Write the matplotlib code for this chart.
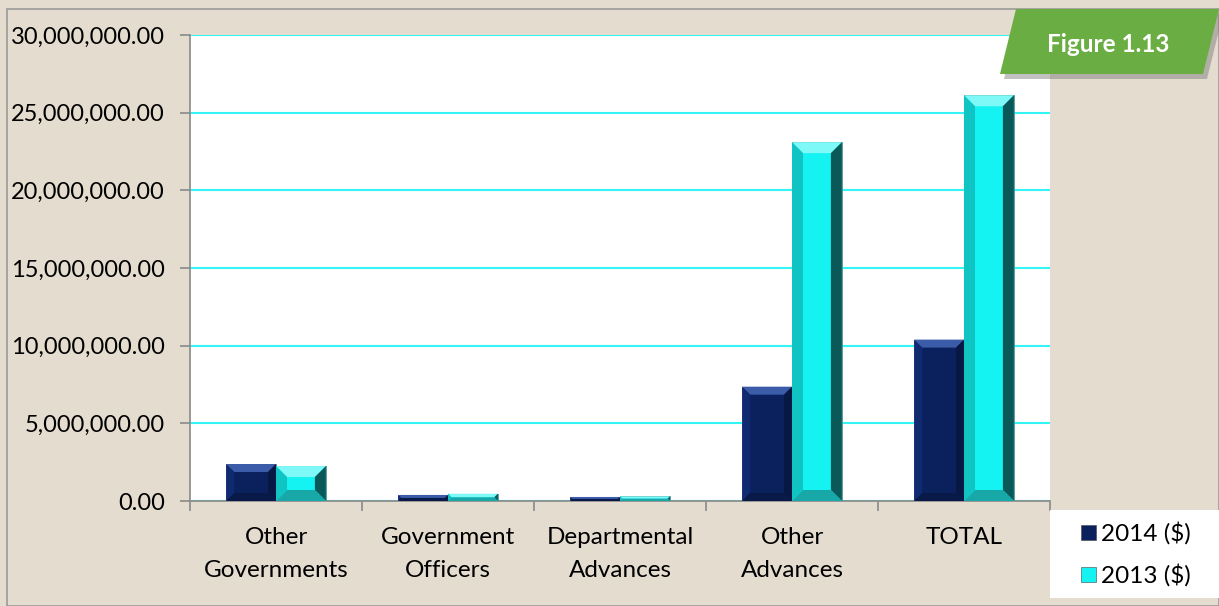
import matplotlib
matplotlib.use("Agg")
import matplotlib.pyplot as plt
from matplotlib.patches import Polygon, Rectangle
from matplotlib.ticker import FuncFormatter, FixedLocator
import numpy as np

categories = ["Other\nGovernments", "Government\nOfficers", "Departmental\nAdvances", "Other\nAdvances", "TOTAL"]
values_2014 = [2380000, 390000, 260000, 7360000, 10390000]
values_2013 = [2250000, 470000, 300000, 23100000, 26120000]
series_labels = ["2014 ($)", "2013 ($)"]
yticks = [0, 5000000, 10000000, 15000000, 20000000, 25000000, 30000000]
badge_text = "Figure 1.13"

plt.rcParams['font.family'] = ['Lato', 'DejaVu Sans']

W, H = 1219, 606
fig = plt.figure(figsize=(W/100, H/100), dpi=100)
fig.patch.set_facecolor('#e4dccf')

# outer frame
fig.add_artist(Rectangle((7/W, 0), 1 - 7/W, 1 - 9/H, transform=fig.transFigure,
                         fill=False, edgecolor='#9a9a9a', lw=1.2))

ax = fig.add_axes([190/W, 1 - 501/H, (1050-190)/W, (501-35)/H])
ax.set_facecolor('white')

x = np.arange(len(categories))
bw = 0.29
navy = '#0b215e'
cyan = '#14f2f2'
b1 = ax.bar(x - bw/2, values_2014, bw, color=navy, edgecolor='#6d7890', lw=0.6, zorder=3)
b2 = ax.bar(x + bw/2, values_2013, bw, color=cyan, edgecolor='#5a8a8a', lw=0.6, zorder=3)

FS = 17.5
ax.set_xlim(-0.5, len(categories) - 0.5)
ax.set_ylim(0, 30000000)
ax.yaxis.set_major_locator(FixedLocator(yticks))
ax.yaxis.set_major_formatter(FuncFormatter(lambda v, p: f"{v:,.2f}"))
ax.grid(axis='y', color='#33f5f5', lw=1.5, zorder=0)
ax.set_axisbelow(True)
ax.set_xticks(x)
ax.set_xticklabels(categories, fontsize=FS, linespacing=1.7)
ax.tick_params(axis='x', length=0, pad=19)
ax.set_xticks(np.arange(len(categories) + 1) - 0.5, minor=True)
ax.tick_params(axis='x', which='minor', length=7, color='#8a8a8a', width=1.2)
ax.tick_params(axis='y', length=7, color='#8a8a8a', width=1.2, labelsize=17, pad=11)
for s in ['top', 'right']:
    ax.spines[s].set_visible(False)
for s in ['left', 'bottom']:
    ax.spines[s].set_color('#8a8a8a')
    ax.spines[s].set_linewidth(1.2)

fig.canvas.draw()

def bevel(rect, top, left, right, bottom, bsz=8):
    bb = rect.get_window_extent()
    x0, y0, x1, y1 = bb.x0, bb.y0, bb.x1, bb.y1
    b = min(bsz, (x1 - x0) / 2, (y1 - y0) / 2)
    if b < 1:
        return
    polys = [
        ([(x0, y1), (x1, y1), (x1 - b, y1 - b), (x0 + b, y1 - b)], top),
        ([(x0, y1), (x0 + b, y1 - b), (x0 + b, y0 + b), (x0, y0)], left),
        ([(x1, y1), (x1, y0), (x1 - b, y0 + b), (x1 - b, y1 - b)], right),
        ([(x0, y0), (x0 + b, y0 + b), (x1 - b, y0 + b), (x1, y0)], bottom),
    ]
    for pts, c in polys:
        fig.add_artist(Polygon(pts, closed=True, transform=None, facecolor=c,
                               edgecolor='none', zorder=4))

for r in b1:
    bevel(r, '#3b5ca8', '#0f2a70', '#081845', '#0a1a48')
for r in b2:
    bevel(r, '#7ff8f8', '#10c4c4', '#0b5858', '#18a8a8', bsz=11)

# legend box
fig.add_artist(Rectangle((1050/W, 1 - 598/H), 169/W, 88/H, transform=fig.transFigure,
                         facecolor='white', edgecolor='none', zorder=5))
for i, (lab, c) in enumerate(zip(series_labels, [navy, cyan])):
    yc = 1 - (533 + i * 42) / H
    fig.add_artist(Rectangle((1081/W, yc - 7/H), 15/W, 15/H, transform=fig.transFigure,
                             facecolor=c, edgecolor='#444444', lw=0.4, zorder=6))
    fig.text(1101/W, yc, lab, fontsize=FS, va='center', ha='left', zorder=6)

# badge
def fpx(px, py):
    return (px / W, 1 - py / H)
shadow = [fpx(1004, 79), fpx(1020, 14), fpx(1223, 14), fpx(1207, 79)]
fig.add_artist(Polygon(shadow, closed=True, transform=fig.transFigure,
                       facecolor='#777777', alpha=0.45, edgecolor='none', zorder=7))
badge = [fpx(1000, 74), fpx(1016, 9), fpx(1219, 9), fpx(1203, 74)]
fig.add_artist(Polygon(badge, closed=True, transform=fig.transFigure,
                       facecolor='#6aad42', edgecolor='none', zorder=8))
fig.text(1108/W, 1 - 44/H, badge_text, fontsize=17.5, fontweight='bold', color='white',
         ha='center', va='center', zorder=9)

fig.savefig("out.png", dpi=100, facecolor=fig.get_facecolor())
